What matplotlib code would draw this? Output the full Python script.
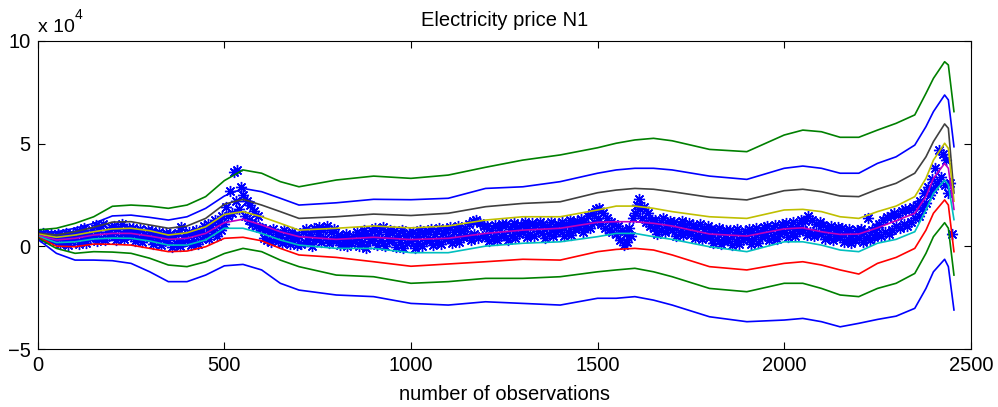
import numpy as np
import matplotlib.pyplot as plt

plt.rcParams['font.family'] = ['Liberation Sans', 'DejaVu Sans']

# observation index where the quantile curves were sampled
obs_grid = [0, 50, 100, 150, 200, 250, 300, 350, 400, 450, 500, 550, 600, 650, 700,
            800, 900, 1000, 1100, 1200, 1300, 1400, 1500, 1550, 1600, 1650, 1700,
            1800, 1900, 2000, 2050, 2100, 2150, 2200, 2250, 2300, 2350, 2380, 2400,
            2430, 2440, 2455]

# forecast quantile curves, price in units of 1e4 (top to bottom)
q_top_green = [0.8, 0.88, 1.12, 1.44, 1.95, 2.01, 1.96, 1.85, 2.01, 2.42, 3.2, 3.72, 3.56, 3.15, 2.9,
               3.23, 3.42, 3.31, 3.47, 3.85, 4.2, 4.45, 4.8, 5.02, 5.18, 5.26, 5.14,
               4.72, 4.61, 5.42, 5.66, 5.58, 5.31, 5.31, 5.66, 5.99, 6.4, 7.45, 8.18,
               8.99, 8.83, 6.56]
q_top_blue = [0.7, 0.71, 0.88, 1.12, 1.48, 1.52, 1.41, 1.28, 1.44, 1.85, 2.45, 2.82, 2.66, 2.34, 2.01,
              2.12, 2.29, 2.27, 2.34, 2.82, 2.9, 3.15, 3.56, 3.72, 3.8, 3.8, 3.72,
              3.42, 3.26, 3.8, 3.91, 3.8, 3.56, 3.56, 4.04, 4.36, 4.93, 5.83, 6.56,
              7.37, 7.13, 4.85]
q_gray = [0.65, 0.55, 0.71, 0.93, 1.18, 1.2, 1.04, 0.88, 0.99, 1.36, 2.05, 2.29, 2.01, 1.69, 1.36,
          1.44, 1.57, 1.5, 1.61, 1.93, 2.09, 2.17, 2.61, 2.74, 2.82, 2.78, 2.66,
          2.39, 2.26, 2.71, 2.78, 2.66, 2.45, 2.42, 2.78, 3.07, 3.56, 4.36, 5.1,
          5.96, 5.75, 2.6]
q_yellow = [0.6, 0.44, 0.55, 0.71, 0.85, 0.88, 0.76, 0.55, 0.66, 0.95, 1.55, 1.69, 1.44, 1.12, 0.79,
            0.88, 0.99, 0.9, 0.99, 1.28, 1.44, 1.44, 1.77, 1.96, 1.96, 1.85, 1.69,
            1.44, 1.36, 1.77, 1.8, 1.69, 1.44, 1.36, 1.69, 1.96, 2.42, 3.31, 4.2,
            5.02, 4.77, 2.2]
q_median = [0.55, 0.31, 0.39, 0.55, 0.63, 0.63, 0.5, 0.34, 0.39, 0.63, 1.15, 1.32, 1.04, 0.71, 0.47,
            0.34, 0.44, 0.33, 0.39, 0.63, 0.79, 0.88, 1.17, 1.2, 1.2, 1.12, 0.99,
            0.6, 0.5, 0.85, 0.9, 0.71, 0.58, 0.6, 0.9, 1.25, 1.61, 2.42, 3.31,
            4.04, 3.8, 1.8]
q_cyan = [0.5, 0.18, 0.22, 0.36, 0.4, 0.39, 0.26, 0.06, 0.06, 0.31, 0.88, 0.88, 0.63, 0.31, 0.06,
          -0.1, -0.1, -0.31, -0.31, 0.01, 0.15, 0.22, 0.47, 0.63, 0.63, 0.47, 0.34,
          -0.02, -0.26, 0.22, 0.22, 0.06, -0.18, -0.26, 0.15, 0.34, 0.71, 1.77, 2.58,
          3.23, 2.99, 1.3]
q_red = [0.45, 0.01, -0.02, 0.11, 0.1, 0.06, -0.1, -0.26, -0.23, -0.02, 0.39, 0.44, 0.27, -0.1, -0.42,
         -0.54, -0.75, -0.97, -0.86, -0.75, -0.63, -0.67, -0.26, -0.15, -0.1, -0.18, -0.42,
         -0.99, -1.15, -0.83, -0.75, -0.91, -1.15, -1.35, -0.83, -0.54, -0.1, 0.79, 1.61,
         2.26, 2.01, -0.26]
q_low_green = [0.4, -0.1, -0.34, -0.26, -0.28, -0.34, -0.58, -0.91, -0.99, -0.75, -0.35, -0.1, -0.26, -0.67, -0.99,
               -1.4, -1.48, -1.8, -1.72, -1.56, -1.56, -1.48, -1.24, -1.15, -1.07, -1.24, -1.48,
               -2.05, -2.21, -1.8, -1.8, -2.05, -2.37, -2.45, -2.05, -1.8, -1.32, -0.34, 0.47,
               1.15, 0.88, -1.4]
q_low_blue = [0.35, -0.34, -0.67, -0.67, -0.7, -0.83, -1.24, -1.72, -1.72, -1.4, -0.95, -0.88, -1.15, -1.8, -2.13,
              -2.37, -2.45, -2.78, -2.86, -2.7, -2.78, -2.86, -2.53, -2.53, -2.45, -2.62, -2.86,
              -3.43, -3.67, -3.59, -3.51, -3.67, -3.92, -3.75, -3.56, -3.4, -3.02, -2.05, -1.24,
              -0.63, -0.99, -3.1]

# observed prices every 5th observation, units of 1e4 (one row = 50 observations)
obs_step = 5
price_obs = [
    0.5, 0.6, 0.45, 0.65, 0.4, 0.55, 0.35, 0.6, 0.3, 0.5,
    0.3, 0.6, 0.1, 0.5, 0.2, 0.65, 0.05, 0.45, 0.25, 0.6,
    0.35, 0.75, 0.1, 0.6, 0.3, 0.9, 0.15, 0.55, 0.4, 0.8,
    0.5, 1.05, 0.25, 0.8, 0.4, 1.1, 0.3, 0.7, 0.5, 0.95,
    0.6, 1.0, 0.3, 0.85, 0.45, 1.1, 0.35, 0.75, 0.55, 0.9,
    0.5, 0.9, 0.25, 0.75, 0.4, 0.85, 0.2, 0.6, 0.45, 0.8,
    0.4, 0.75, 0.1, 0.6, 0.3, 0.7, 0.05, 0.55, 0.25, 0.65,
    0.3, 0.6, -0.05, 0.5, 0.15, 0.65, 0.0, 0.95, 0.2, 0.55,
    0.3, 0.7, 0.05, 0.6, 0.25, 0.8, 0.1, 0.65, 0.35, 1.0,
    0.6, 1.1, 0.35, 0.95, 0.7, 1.3, 0.5, 1.2, 0.8, 1.5,
    1.1, 1.9, 1.5, 2.7, 1.6, 3.6, 2.2, 3.7, 1.8, 2.9,
    2.5, 1.5, 2.2, 1.3, 2.0, 1.1, 1.7, 1.0, 1.5, 0.9,
    0.9, 0.4, 0.8, 0.3, 0.7, 0.2, 0.85, 0.35, 0.6, 0.25,
    0.6, 0.15, 0.8, 0.3, 0.55, 0.1, 0.7, 0.25, 0.5, 0.05,
    0.5, 0.1, 0.7, 0.2, 0.85, 0.3, 0.6, 0.0, 0.9, 0.35,
    0.6, 0.95, 0.2, 0.8, 0.4, 1.0, 0.15, 0.7, 0.3, 0.85,
    0.3, 0.55, 0.05, 0.45, 0.2, 0.6, 0.0, 0.4, 0.15, 0.5,
    0.3, 0.7, 0.0, 0.55, 0.2, 0.8, -0.1, 0.5, 0.25, 0.75,
    0.4, 0.9, 0.05, 0.7, 0.3, 0.95, 0.0, 0.6, 0.25, 0.8,
    0.3, 0.75, -0.05, 0.55, 0.2, 0.8, -0.1, 0.5, 0.15, 0.65,
    0.25, 0.7, -0.1, 0.5, 0.15, 0.8, 0.0, 0.6, 0.3, 0.75,
    0.3, 0.85, 0.05, 0.6, 0.25, 0.9, 0.1, 0.65, 0.35, 0.8,
    0.4, 0.95, 0.15, 0.7, 0.35, 1.0, 0.2, 0.75, 0.45, 0.9,
    0.5, 1.1, 0.3, 1.25, 0.6, 1.3, 0.4, 1.15, 0.5, 1.0,
    0.5, 1.0, 0.25, 0.8, 0.45, 1.05, 0.3, 0.9, 0.5, 1.1,
    0.55, 1.1, 0.3, 0.85, 0.5, 1.15, 0.4, 0.95, 0.6, 1.05,
    0.7, 1.2, 0.45, 1.0, 0.6, 1.15, 0.5, 1.05, 0.75, 1.2,
    0.65, 1.1, 0.4, 0.95, 0.6, 1.2, 0.5, 1.0, 0.7, 1.1,
    0.8, 1.2, 0.5, 1.05, 0.7, 1.3, 0.55, 1.1, 0.85, 1.25,
    0.9, 1.35, 0.7, 1.2, 1.0, 1.5, 0.9, 1.6, 1.2, 1.8,
    1.4, 1.85, 1.1, 1.6, 0.9, 1.4, 0.8, 1.2, 0.7, 1.1,
    0.6, 1.0, 0.3, 0.8, 0.05, 0.6, 0.2, 0.9, 0.5, 1.4,
    1.6, 2.0, 2.3, 1.8, 1.4, 1.9, 1.2, 1.6, 1.0, 1.3,
    0.9, 1.3, 0.6, 1.1, 0.8, 1.4, 0.7, 1.2, 0.9, 1.25,
    0.8, 1.2, 0.5, 1.0, 0.7, 1.25, 0.55, 1.05, 0.75, 1.15,
    0.6, 1.05, 0.4, 0.9, 0.55, 1.1, 0.35, 0.85, 0.5, 1.0,
    0.45, 0.85, 0.15, 0.7, 0.35, 0.9, 0.1, 0.65, 0.3, 0.8,
    0.35, 0.8, 0.05, 0.6, 0.25, 0.85, 0.1, 0.55, 0.3, 0.75,
    0.4, 0.85, 0.1, 0.7, 0.35, 0.9, 0.15, 0.65, 0.45, 0.95,
    0.55, 1.0, 0.3, 0.8, 0.5, 1.05, 0.35, 0.85, 0.6, 1.1,
    0.7, 1.15, 0.45, 0.95, 0.65, 1.2, 0.5, 1.0, 0.75, 1.3,
    0.8, 1.25, 0.55, 1.5, 0.7, 1.3, 0.5, 1.1, 0.65, 1.2,
    0.6, 1.05, 0.35, 0.85, 0.5, 1.0, 0.3, 0.8, 0.5, 0.95,
    0.45, 0.9, 0.2, 0.7, 0.35, 0.85, 0.15, 0.6, 0.3, 0.8,
    0.4, 0.85, 0.2, 0.7, 0.4, 1.4, 0.3, 0.8, 0.45, 0.95,
    0.6, 1.1, 0.5, 1.3, 0.7, 1.45, 0.6, 1.5, 0.8, 1.6,
    1.0, 1.55, 0.9, 1.7, 1.1, 1.8, 1.0, 1.75, 1.2, 1.9,
    1.4, 2.0, 1.5, 2.2, 1.8, 2.6, 2.1, 2.9, 2.5, 3.3,
    2.8, 3.8, 3.1, 4.7, 3.4, 4.5, 3.0, 4.2, 2.6, 3.1,
    0.6,
]

quantiles = [
    (q_top_green, (0, 0.5, 0)),
    (q_top_blue, (0, 0, 1)),
    (q_gray, (0.25, 0.25, 0.25)),
    (q_yellow, (0.75, 0.75, 0)),
    (q_median, (0.75, 0, 0.75)),
    (q_cyan, (0, 0.75, 0.75)),
    (q_red, (1, 0, 0)),
    (q_low_green, (0, 0.5, 0)),
    (q_low_blue, (0, 0, 1)),
]

fig = plt.figure(figsize=(9.98, 4.07), dpi=100)
ax = fig.add_axes([0.0378, 0.1425, 0.9349, 0.7568])

x_obs = np.arange(len(price_obs)) * obs_step
ax.plot(x_obs, price_obs, linestyle='none', marker=(8, 2, 0), markersize=8,
        markeredgewidth=1.0, color=(0, 0, 1))

for values, color in quantiles:
    ax.plot(obs_grid, values, color=color, linewidth=1.2)

ax.set_xlim(0, 2500)
ax.set_ylim(-5, 10)
ax.set_xticks([0, 500, 1000, 1500, 2000, 2500])
ax.set_yticks([-5, 0, 5, 10])
ax.set_yticklabels(['\u22125', '0', '5', '10'])
ax.tick_params(direction='in', top=True, right=True, length=5, width=0.8,
               labelsize=14.5, pad=5)
for spine in ax.spines.values():
    spine.set_linewidth(0.8)

ax.set_title('Electricity price N1', fontsize=14.5, pad=11)
ax.set_xlabel('number of observations', fontsize=14.5, labelpad=7)

# exponent for the y axis
fig.text(0.038, 0.932, 'x 10', fontsize=14, ha='left', va='center')
fig.text(0.0745, 0.962, '4', fontsize=10, ha='left', va='center')

fig.savefig('out.png', dpi=100)
